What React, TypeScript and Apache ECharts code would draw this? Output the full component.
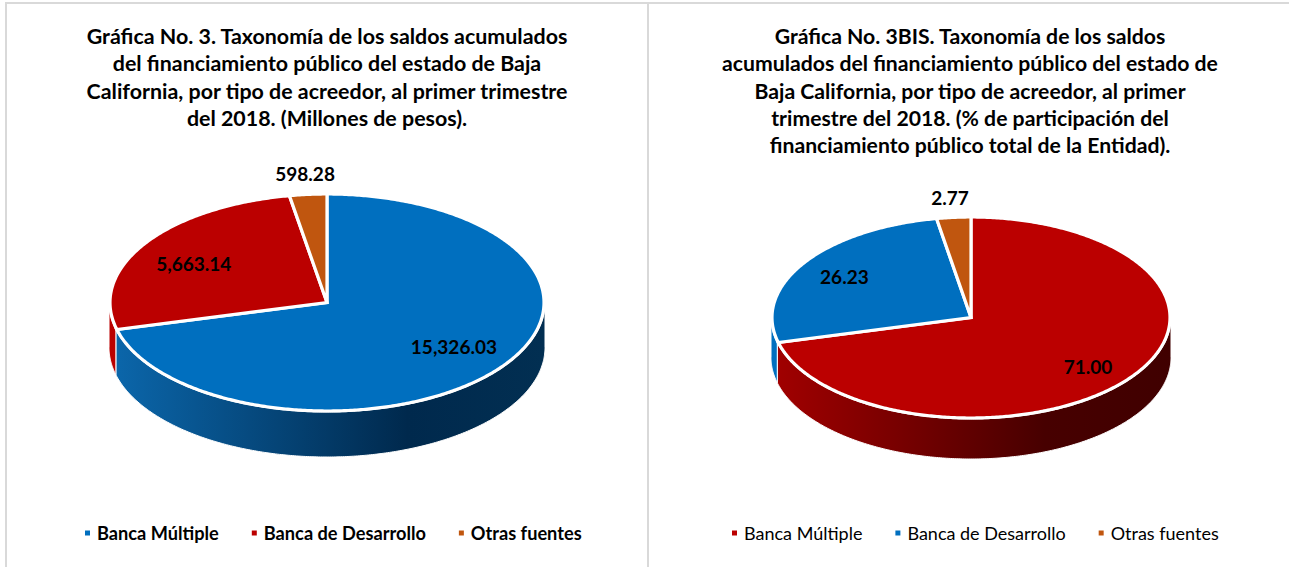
import React, { useEffect, useRef } from "react";
import * as echarts from "echarts";

const categories = ["Banca Múltiple", "Banca de Desarrollo", "Otras fuentes"];
const valuesAmount = [15326.03, 5663.14, 598.28];
const labelsAmount = ["15,326.03", "5,663.14", "598.28"];
const valuesShare = [71.0, 26.23, 2.77];
const labelsShare = ["71.00", "26.23", "2.77"];
const colorsAmount = ["#006fbf", "#bb0000", "#c0560f"];
const colorsShare = ["#bb0000", "#006fbf", "#c0560f"];
const wallStopsBlue = ["#0b66aa", "#00294d", "#022f52"];
const wallStopsRed = ["#a00000", "#470000", "#400000"];
const titleAmount =
  "Gráfica No. 3. Taxonomía de los saldos acumulados\ndel financiamiento público del estado de Baja\nCalifornia, por tipo de acreedor, al primer trimestre\ndel 2018. (Millones de pesos).";
const titleShare =
  "Gráfica No. 3BIS. Taxonomía de los saldos\nacumulados del financiamiento público del estado de\nBaja California, por tipo de acreedor, al primer\ntrimestre del 2018. (% de participación del\nfinanciamiento público total de la Entidad).";

const FONT = "Lato";

type Layout = {
  left: number; width: number; cx: number; cy: number; rx: number; ry: number; depth: number;
  titleX: number; titleTop: number; titleWeight: string; titleSize: number;
  legendLeft: number; legendWeight: string; legendSize: number; legendGap: number;
  labelFx: number[]; labelFy: number[];
};

function ellipsePoints(l: Layout, from: number, to: number, dy: number, grow = 0) {
  const pts: number[][] = [];
  const n = Math.max(2, Math.ceil(Math.abs(to - from) / 0.01));
  for (let i = 0; i <= n; i++) {
    const t = from + ((to - from) * i) / n;
    pts.push([l.cx + (l.rx + grow) * Math.sin(t), l.cy + dy - (l.ry + grow) * Math.cos(t)]);
  }
  return pts;
}

function buildOption(
  l: Layout, values: number[], labels: string[], colors: string[], title: string, wallMain: string[]
) {
  const total = values.reduce((a, b) => a + b, 0);
  const series = categories.map((name, idx) => ({
    type: "custom",
    name,
    coordinateSystem: "none",
    itemStyle: { color: colors[idx] },
    data: [values[idx]],
    renderItem: (_p: any, api: any) => {
      const before = values.slice(0, idx).reduce((a, b) => a + b, 0);
      const a0 = (before / total) * Math.PI * 2;
      const a1 = ((before + api.value(0)) / total) * Math.PI * 2;
      const children: any[] = [];
      const w0 = Math.max(a0, Math.PI / 2);
      const w1 = Math.min(a1, (Math.PI * 3) / 2);
      if (w1 > w0) {
        const top = ellipsePoints(l, w0, w1, 0, 1);
        const bottom = ellipsePoints(l, w1, w0, l.depth, 1);
        const isMain = idx === 0;
        children.push({
          type: "polygon",
          z2: 1,
          shape: { points: top.concat(bottom) },
          style: {
            fill: isMain
              ? new echarts.graphic.LinearGradient(0, 0, 1, 0, [
                  { offset: 0, color: wallMain[0] },
                  { offset: 0.68, color: wallMain[1] },
                  { offset: 1, color: wallMain[2] },
                ])
              : colors[idx],
            stroke: "#ffffff",
            lineWidth: 1,
          },
        });
      }
      const arc = ellipsePoints(l, a0, a1, 0);
      children.push({
        type: "polygon",
        z2: 2,
        shape: { points: [[l.cx, l.cy]].concat(arc) },
        style: { fill: colors[idx], stroke: "#ffffff", lineWidth: 3.2, lineJoin: "miter" },
      });
      const mid = (a0 + a1) / 2;
      children.push({
        type: "text",
        z2: 3,
        x: l.cx + l.rx * l.labelFx[idx] * Math.sin(mid),
        y: l.cy - l.ry * l.labelFy[idx] * Math.cos(mid),
        style: {
          text: labels[idx],
          fill: "#000000",
          font: `700 19px ${FONT}`,
          align: "center",
          verticalAlign: "middle",
        },
      });
      return { type: "group", children };
    },
  }));
  return {
    animation: false,
    backgroundColor: "#ffffff",
    title: {
      text: title,
      left: l.titleX,
      top: l.titleTop,
      textAlign: "center",
      textStyle: {
        fontFamily: FONT,
        fontSize: l.titleSize,
        fontWeight: l.titleWeight,
        color: "#000000",
        lineHeight: 27.4,
      },
    },
    legend: {
      left: l.legendLeft,
      top: 524,
      icon: "rect",
      itemWidth: 5,
      itemHeight: 5,
      itemGap: l.legendGap,
      padding: 0,
      selectedMode: false,
      textStyle: {
        fontFamily: FONT,
        fontSize: l.legendSize,
        fontWeight: l.legendWeight,
        color: "#000000",
        padding: [0, 0, 0, 2],
      },
      data: categories,
    },
    series,
  };
}

const layoutA: Layout = {
  left: 0, width: 648, cx: 327, cy: 302.5, rx: 217, ry: 108.5, depth: 45,
  titleX: 322, titleTop: 17, titleWeight: "700", titleSize: 21.4,
  legendLeft: 85, legendWeight: "700", legendSize: 18.2, legendGap: 33,
  labelFx: [0.74, 0.73, 1.16], labelFy: [0.66, 0.66, 1.19],
};
const layoutB: Layout = {
  left: 648, width: 641, cx: 323, cy: 317.5, rx: 199, ry: 100.5, depth: 40,
  titleX: 317, titleTop: 17, titleWeight: "700", titleSize: 21.2,
  legendLeft: 84, legendWeight: "400", legendSize: 18, legendGap: 33,
  labelFx: [0.744, 0.757, 1.21], labelFy: [0.795, 0.754, 1.2],
};

function Panel({ l, values, labels, colors, title, wall }: any) {
  const ref = useRef<HTMLDivElement>(null);
  useEffect(() => {
    const chart = echarts.init(ref.current!, undefined, { renderer: "svg" });
    chart.setOption(buildOption(l, values, labels, colors, title, wall) as any);
    return () => chart.dispose();
  }, []);
  return (
    <div
      ref={ref}
      style={{ position: "absolute", left: l.left, top: 0, width: l.width, height: 567 }}
    />
  );
}

export default function App() {
  return (
    <div style={{ position: "absolute", left: 0, top: 0, width: 1289, height: 567, overflow: "hidden", background: "#fff" }}>
      <Panel l={layoutA} values={valuesAmount} labels={labelsAmount} colors={colorsAmount} title={titleAmount} wall={wallStopsBlue} />
      <Panel l={layoutB} values={valuesShare} labels={labelsShare} colors={colorsShare} title={titleShare} wall={wallStopsRed} />
      <div style={{ position: "absolute", left: 5, top: 2, width: 1284, height: 2, background: "#d9d9d9" }} />
      <div style={{ position: "absolute", left: 5, top: 2, width: 2, height: 565, background: "#d9d9d9" }} />
      <div style={{ position: "absolute", left: 647, top: 2, width: 2, height: 565, background: "#d9d9d9" }} />
    </div>
  );
}
